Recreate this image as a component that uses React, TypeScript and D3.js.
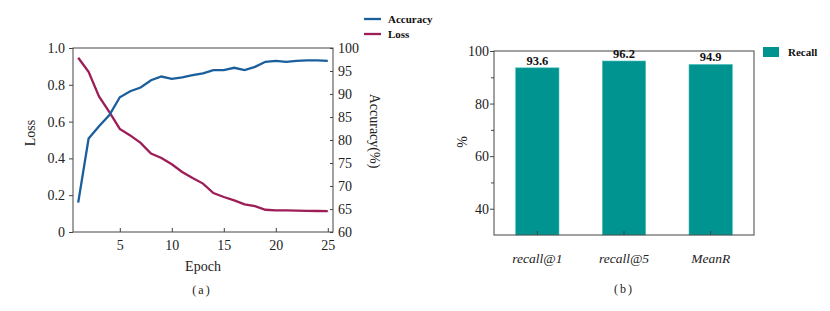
import React, { useEffect, useRef } from 'react';
import * as d3 from 'd3';

// chart (a): training curves
const epochs = d3.range(1, 26);
const lossValues = [0.947, 0.87, 0.737, 0.652, 0.56, 0.525, 0.484, 0.426, 0.402, 0.368, 0.326, 0.293, 0.263, 0.212, 0.19, 0.172, 0.15, 0.14, 0.121, 0.118, 0.117, 0.116, 0.115, 0.114, 0.113];
const accuracyValues = [66.4, 80.3, 83.0, 85.4, 89.3, 90.6, 91.4, 93.0, 93.8, 93.3, 93.6, 94.1, 94.5, 95.2, 95.2, 95.7, 95.2, 95.9, 97.0, 97.2, 97.0, 97.2, 97.3, 97.3, 97.2];
const lossTicks = [0, 0.2, 0.4, 0.6, 0.8, 1.0];
const accTicks = [60, 65, 70, 75, 80, 85, 90, 95, 100];
const epochTicks = [5, 10, 15, 20, 25];

// chart (b): recall bars
const recallCategories = ['recall@1', 'recall@5', 'MeanR'];
const recallValues = [93.6, 96.2, 94.9];
const recallTicks = [40, 60, 80, 100];
const recallMinorTicks = [50, 70, 90];

const FONT = 'Liberation Serif, DejaVu Serif, serif';
const BLUE = '#1b5e9c';
const RED = '#9d1d56';
const TEAL = '#009490';
const AXIS = '#444';

const App = () => {
  const svgRef = useRef<SVGSVGElement>(null);

  useEffect(() => {
    const svg = d3.select(svgRef.current);
    svg.selectAll('*').remove();

    // ---------- (a) ----------
    const a = { left: 73, right: 333, top: 48, bottom: 232 };
    const x = d3.scaleLinear().domain([0.5, 25.5]).range([a.left, a.right]);
    const yLoss = d3.scaleLinear().domain([0, 1]).range([a.bottom, a.top]);
    const yAcc = d3.scaleLinear().domain([60, 100]).range([a.bottom, a.top]);

    const ga = svg.append('g').attr('font-family', FONT);

    ga.append('rect')
      .attr('x', a.left).attr('y', a.top)
      .attr('width', a.right - a.left).attr('height', a.bottom - a.top)
      .attr('fill', 'none').attr('stroke', AXIS).attr('stroke-width', 1);

    const lossAxis = d3.axisLeft(yLoss).tickValues(lossTicks).tickSize(4).tickPadding(4)
      .tickFormat(d => (d === 0 ? '0' : d3.format('.1f')(d as number)));
    ga.append('g').attr('transform', `translate(${a.left},0)`).call(lossAxis);

    const accAxis = d3.axisRight(yAcc).tickValues(accTicks).tickSize(-3).tickPadding(5)
      .tickFormat(d3.format('d'));
    ga.append('g').attr('transform', `translate(${a.right},0)`).call(accAxis);

    const epochAxis = d3.axisBottom(x).tickValues(epochTicks).tickSize(-4).tickPadding(8)
      .tickFormat(d3.format('d'));
    ga.append('g').attr('transform', `translate(0,${a.bottom})`).call(epochAxis);

    ga.selectAll('.domain').remove();
    ga.selectAll('g').attr('font-family', FONT).attr('font-size', 14);
    ga.selectAll('.tick line').attr('stroke', AXIS);
    ga.selectAll('.tick text').attr('fill', '#222');

    const lossLine = d3.line<number>().x((_, i) => x(epochs[i])).y(d => yLoss(d));
    const accLine = d3.line<number>().x((_, i) => x(epochs[i])).y(d => yAcc(d));

    ga.append('path').attr('d', lossLine(lossValues))
      .attr('fill', 'none').attr('stroke', RED).attr('stroke-width', 2.3);
    ga.append('path').attr('d', accLine(accuracyValues))
      .attr('fill', 'none').attr('stroke', BLUE).attr('stroke-width', 2.3);

    ga.append('text').attr('transform', `translate(35,133) rotate(-90)`)
      .attr('text-anchor', 'middle').attr('font-size', 14).attr('fill', '#222').text('Loss');
    ga.append('text').attr('transform', `translate(370,131) rotate(90)`)
      .attr('text-anchor', 'middle').attr('font-size', 14).attr('fill', '#222').text('Accuracy(%)');
    ga.append('text').attr('x', 203).attr('y', 271)
      .attr('text-anchor', 'middle').attr('font-size', 14).attr('fill', '#222').text('Epoch');
    ga.append('text').attr('x', 202).attr('y', 294).attr('letter-spacing', 2)
      .attr('text-anchor', 'middle').attr('font-size', 12).attr('fill', '#222').text('(a)');

    const legendA = [
      { label: 'Accuracy', color: BLUE, y: 19 },
      { label: 'Loss', color: RED, y: 34 },
    ];
    legendA.forEach(l => {
      ga.append('line').attr('x1', 364).attr('x2', 381).attr('y1', l.y).attr('y2', l.y)
        .attr('stroke', l.color).attr('stroke-width', 2.3);
      ga.append('text').attr('x', 388).attr('y', l.y + 4).attr('font-size', 11)
        .attr('font-weight', 'bold').attr('fill', '#111').text(l.label);
    });

    // ---------- (b) ----------
    const b = { left: 494, right: 754, top: 51, bottom: 235 };
    const xb = d3.scaleBand().domain(recallCategories).range([b.left, b.right])
      .paddingInner(0.5).paddingOuter(0.25);
    const yb = d3.scaleLinear().domain([30, 100]).range([b.bottom, b.top]);

    const gb = svg.append('g').attr('font-family', FONT);

    gb.selectAll('.bar').data(recallValues).join('rect')
      .attr('class', 'bar')
      .attr('x', (_, i) => xb(recallCategories[i])!)
      .attr('y', d => yb(d))
      .attr('width', xb.bandwidth())
      .attr('height', d => b.bottom - yb(d))
      .attr('fill', TEAL)
      .attr('stroke', '#4fc4c0').attr('stroke-width', 0.6);

    gb.append('rect')
      .attr('x', b.left).attr('y', b.top)
      .attr('width', b.right - b.left).attr('height', b.bottom - b.top)
      .attr('fill', 'none').attr('stroke', AXIS).attr('stroke-width', 1);

    const recallAxis = d3.axisLeft(yb).tickValues(recallTicks).tickSize(4).tickPadding(1)
      .tickFormat(d3.format('d'));
    gb.append('g').attr('transform', `translate(${b.left},0)`).call(recallAxis);
    const minorAxis = d3.axisLeft(yb).tickValues(recallMinorTicks).tickSize(3).tickFormat(() => '');
    gb.append('g').attr('transform', `translate(${b.left},0)`).call(minorAxis);
    const catAxis = d3.axisBottom(xb).tickSize(-4).tickPadding(18);
    gb.append('g').attr('class', 'cat').attr('transform', `translate(0,${b.bottom})`).call(catAxis);

    gb.selectAll('.domain').remove();
    gb.selectAll('g').attr('font-family', FONT).attr('font-size', 14);
    gb.selectAll('.tick line').attr('stroke', AXIS);
    gb.selectAll('.tick text').attr('fill', '#222');
    gb.selectAll('.cat .tick text').attr('font-style', 'italic').attr('font-size', 13.5);

    gb.selectAll('.label').data(recallValues).join('text')
      .attr('class', 'label')
      .attr('x', (_, i) => xb(recallCategories[i])! + xb.bandwidth() / 2)
      .attr('y', d => yb(d) - 3)
      .attr('text-anchor', 'middle')
      .attr('font-size', 12.5)
      .attr('font-weight', 'bold')
      .attr('fill', '#111')
      .text(d => d.toFixed(1));

    gb.append('text').attr('transform', `translate(467,142) rotate(-90)`)
      .attr('text-anchor', 'middle').attr('font-size', 14).attr('fill', '#222').text('%');
    gb.append('text').attr('x', 624).attr('y', 293).attr('letter-spacing', 2)
      .attr('text-anchor', 'middle').attr('font-size', 12).attr('fill', '#222').text('(b)');

    gb.append('rect').attr('x', 763).attr('y', 47).attr('width', 16).attr('height', 10)
      .attr('fill', TEAL);
    gb.append('text').attr('x', 788).attr('y', 56).attr('font-size', 11)
      .attr('font-weight', 'bold').attr('fill', '#111').text('Recall');
  }, []);

  return (
    <svg
      ref={svgRef}
      width={830}
      height={311}
      style={{ position: 'absolute', left: 0, top: 0, background: '#fff' }}
    />
  );
};

export default App;
